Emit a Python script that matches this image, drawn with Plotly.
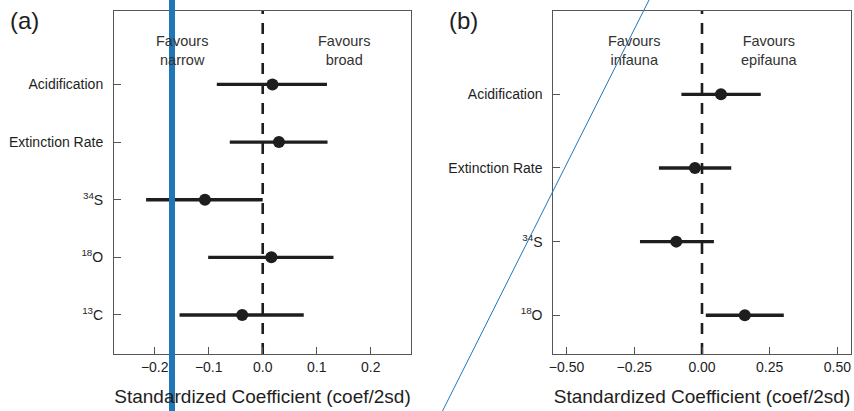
import plotly.graph_objects as go

# Panel (a): host breadth
labels_a = ["<sup>13</sup>C", "<sup>18</sup>O", "<sup>34</sup>S", "Extinction Rate", "Acidification"]
est_a = [-0.038, 0.016, -0.107, 0.030, 0.018]
lo_a = [-0.154, -0.101, -0.216, -0.061, -0.085]
hi_a = [0.076, 0.131, 0.0, 0.120, 0.119]

# Panel (b): infauna vs epifauna
labels_b = ["<sup>18</sup>O", "<sup>34</sup>S", "Extinction Rate", "Acidification"]
est_b = [0.158, -0.095, -0.026, 0.070]
lo_b = [0.014, -0.229, -0.159, -0.076]
hi_b = [0.302, 0.044, 0.108, 0.217]

ticks_a = [-0.2, -0.1, 0.0, 0.1, 0.2]
ticktext_a = ["\u22120.2", "\u22120.1", "0.0", "0.1", "0.2"]
ticks_b = [-0.5, -0.25, 0.0, 0.25, 0.5]
ticktext_b = ["\u22120.50", "\u22120.25", "0.00", "0.25", "0.50"]

FONT = "Liberation Sans, Arial, sans-serif"
INK = "#1e1e1e"
AX = "#555555"

fig = go.Figure()

def add_panel(est, lo, hi, xa, ya):
    pos = list(range(1, len(est) + 1))
    fig.add_trace(go.Scatter(
        x=est, y=pos, mode="markers", xaxis=xa, yaxis=ya,
        marker=dict(size=12, color=INK),
        error_x=dict(type="data", symmetric=False,
                     array=[h - e for h, e in zip(hi, est)],
                     arrayminus=[e - l for e, l in zip(est, lo)],
                     thickness=3.3, width=0, color=INK),
        showlegend=False, hoverinfo="x+y"))

add_panel(est_a, lo_a, hi_a, "x", "y")
add_panel(est_b, lo_b, hi_b, "x2", "y2")

ydom = [1 - 354 / 411, 1 - 10.7 / 411]
common_x = dict(showline=True, linecolor=AX, linewidth=1, mirror=True, automargin=False,
                ticks="inside", ticklen=7, tickcolor=AX, showgrid=False, zeroline=False,
                tickfont=dict(family=FONT, size=14, color=INK),
                title=dict(text="Standardized Coefficient (coef/2sd)",
                           font=dict(family=FONT, size=19, color=INK), standoff=15))
common_y = dict(showline=True, linecolor=AX, linewidth=1, mirror=True, automargin=False,
                ticks="inside", ticklen=7, tickcolor=AX, showgrid=False, zeroline=False,
                tickfont=dict(family=FONT, size=14, color=INK), ticklabelstandoff=7,
                domain=ydom)

fig.update_layout(
    width=854, height=411,
    margin=dict(l=0, r=0, t=0, b=0, autoexpand=False),
    paper_bgcolor="white", plot_bgcolor="white",
    xaxis=dict(common_x, domain=[114 / 854, 411 / 854], range=[-0.2754, 0.2746],
               tickvals=ticks_a, ticktext=ticktext_a, anchor="y"),
    yaxis=dict(common_y, range=[0.323, 6.28], tickvals=list(range(1, 6)),
               ticktext=labels_a, anchor="x"),
    xaxis2=dict(common_x, domain=[553.3 / 854, 850.7 / 854], range=[-0.549, 0.549],
                tickvals=ticks_b, ticktext=ticktext_b, anchor="y2"),
    yaxis2=dict(common_y, range=[0.474, 5.136], tickvals=list(range(1, 5)),
                ticktext=labels_b, anchor="x2"),
)

# dashed zero lines
for xr, yr in [("x", "y domain"), ("x2", "y2 domain")]:
    fig.add_shape(type="line", xref=xr, yref=yr, x0=0, x1=0, y0=0, y1=1,
                  line=dict(color=INK, width=2.6, dash="11px,9px"), layer="below")

ann_font = dict(family=FONT, size=14.5, color="#333333")
fig.add_annotation(x=-0.15, y=5.59, xref="x", yref="y", text="Favours<br>narrow",
                   showarrow=False, font=ann_font)
fig.add_annotation(x=0.15, y=5.59, xref="x", yref="y", text="Favours<br>broad",
                   showarrow=False, font=ann_font)
fig.add_annotation(x=-0.25, y=4.595, xref="x2", yref="y2", text="Favours<br>infauna",
                   showarrow=False, font=ann_font)
fig.add_annotation(x=0.25, y=4.595, xref="x2", yref="y2", text="Favours<br>epifauna",
                   showarrow=False, font=ann_font)

# panel letters
fig.add_annotation(x=24 / 854, y=1 - 20 / 411, xref="paper", yref="paper", text="(a)",
                   xanchor="center", yanchor="middle",
                   showarrow=False, font=dict(family=FONT, size=24, color=INK))
fig.add_annotation(x=463.5 / 854, y=1 - 20 / 411, xref="paper", yref="paper", text="(b)",
                   xanchor="center", yanchor="middle",
                   showarrow=False, font=dict(family=FONT, size=24, color=INK))

# blue overlay strokes present in the reference image
fig.add_shape(type="line", xref="paper", yref="paper", x0=172 / 854, x1=172 / 854, y0=0, y1=1,
              line=dict(color="#2077b8", width=6))
fig.add_shape(type="line", xref="paper", yref="paper", x0=649 / 854, y0=1, x1=442.5 / 854, y1=0,
              line=dict(color="#2077b8", width=1))

fig.write_html("out.html", config={"displayModeBar": False},
               post_script="document.body.style.margin='0';document.body.style.overflow='hidden';")
